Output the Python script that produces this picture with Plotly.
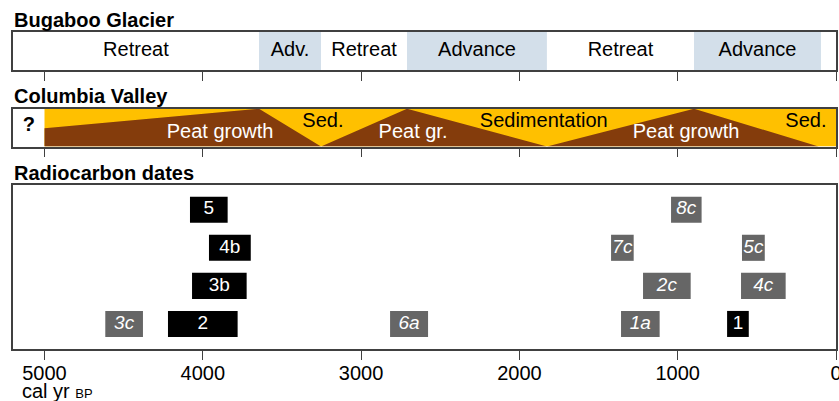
import plotly.graph_objects as go

# ---------------- data ----------------
tick_vals = [5000, 4000, 3000, 2000, 1000, 0]
tick_text = ["5000", "4000", "3000", "2000", "1000", "0"]

# Bugaboo Glacier phases (cal yr BP)
glacier_labels = ["Retreat", "Adv.", "Retreat", "Advance", "Retreat", "Advance"]
glacier_start = [5200, 3645, 3253, 2710, 1826, 897]
glacier_end = [3645, 3253, 2710, 1826, 897, 95]
glacier_state = ["retreat", "advance", "retreat", "advance", "retreat", "advance"]

# Columbia Valley: peat fraction (brown) vs sedimentation (yellow)
valley_x = [5000, 5000, 3645, 3253, 2710, 1826, 897, 110]
valley_peat = [0, 0.48, 1, 0, 1, 0, 1, 0]
valley_start, valley_end = 5000, 0
valley_labels = ["Peat growth", "Sed.", "Peat gr.", "Sedimentation", "Peat growth", "Sed."]
valley_label_x = [3891, 3241, 2672, 1846, 947, 190]
valley_label_kind = ["peat", "sed", "peat", "sed", "peat", "sed"]

# Radiocarbon dates
date_labels = ["5", "4b", "3b", "2", "3c", "6a", "8c", "7c", "5c", "2c", "4c", "1a", "1"]
date_start = [4081, 3961, 4068, 4220, 4616, 2817, 1042, 1421, 594, 1219, 600, 1358, 688]
date_end = [3843, 3697, 3723, 3780, 4378, 2577, 849, 1278, 450, 918, 318, 1114, 551]
date_row = [4, 3, 2, 1, 1, 1, 4, 3, 3, 2, 2, 1, 1]
date_type = ["black", "black", "black", "black", "gray", "gray", "gray", "gray",
             "gray", "gray", "gray", "gray", "black"]

# ---------------- style ----------------
FONT = "Liberation Sans, Arial, sans-serif"
LINE = "#404040"
ADV = "#d3dfea"
YELLOW = "#ffc000"
BROWN = "#843c0c"
GRAY = "#666666"
W, H = 839, 401
ML, MR = 13, 3
XR = [5199, 0]


def py(px):
    return (H - px) / H


fig = go.Figure()

# ---- Panel 1: Bugaboo Glacier ----
colors1 = [ADV if s == "advance" else "white" for s in glacier_state]
fig.add_trace(go.Bar(
    orientation="h", y=[0.5] * len(glacier_start),
    base=glacier_end, x=[s - e for s, e in zip(glacier_start, glacier_end)],
    width=1, marker=dict(color=colors1, line=dict(width=0)),
    xaxis="x", yaxis="y", hoverinfo="skip", showlegend=False))
fig.add_trace(go.Scatter(
    x=[(s + e) / 2 for s, e in zip(glacier_start, glacier_end)],
    y=[0.5] * len(glacier_labels), text=glacier_labels, mode="text",
    textposition="middle center",
    textfont=dict(family=FONT, size=20, color="black"),
    xaxis="x", yaxis="y", hoverinfo="skip", showlegend=False))

# ---- Panel 2: Columbia Valley ----
fig.add_trace(go.Scatter(
    x=[valley_start, valley_end, valley_end, valley_start, valley_start],
    y=[0, 0, 1, 1, 0], fill="toself", fillcolor=YELLOW, mode="lines",
    line=dict(width=0), xaxis="x2", yaxis="y2", hoverinfo="skip", showlegend=False))
fig.add_trace(go.Scatter(
    x=valley_x + [valley_x[0]], y=valley_peat + [valley_peat[0]],
    fill="toself", fillcolor=BROWN, mode="lines", line=dict(width=0),
    xaxis="x2", yaxis="y2", hoverinfo="skip", showlegend=False))
peat_i = [i for i, k in enumerate(valley_label_kind) if k == "peat"]
sed_i = [i for i, k in enumerate(valley_label_kind) if k == "sed"]
fig.add_trace(go.Scatter(
    x=[valley_label_x[i] for i in peat_i], y=[0.35] * len(peat_i),
    text=[valley_labels[i] for i in peat_i], mode="text",
    textfont=dict(family=FONT, size=20, color="white"),
    xaxis="x2", yaxis="y2", hoverinfo="skip", showlegend=False))
fig.add_trace(go.Scatter(
    x=[valley_label_x[i] for i in sed_i], y=[0.65] * len(sed_i),
    text=[valley_labels[i] for i in sed_i], mode="text",
    textfont=dict(family=FONT, size=20, color="black"),
    xaxis="x2", yaxis="y2", hoverinfo="skip", showlegend=False))
fig.add_trace(go.Scatter(
    x=[(XR[0] + valley_start) / 2], y=[0.55], text=["<b>?</b>"], mode="text",
    textfont=dict(family=FONT, size=20, color="black"),
    xaxis="x2", yaxis="y2", hoverinfo="skip", showlegend=False))

# ---- Panel 3: Radiocarbon dates ----
for kind, col in (("black", "black"), ("gray", GRAY)):
    idx = [i for i, t in enumerate(date_type) if t == kind]
    fig.add_trace(go.Bar(
        orientation="h", y=[date_row[i] for i in idx],
        base=[date_end[i] for i in idx],
        x=[date_start[i] - date_end[i] for i in idx],
        width=0.684, marker=dict(color=col, line=dict(width=0)),
        xaxis="x3", yaxis="y3", hoverinfo="skip", showlegend=False))
    fig.add_trace(go.Scatter(
        x=[(date_start[i] + date_end[i]) / 2 for i in idx],
        y=[date_row[i] for i in idx],
        text=[(date_labels[i] if kind == "black" else "<i>" + date_labels[i] + "</i>") for i in idx],
        mode="text", textfont=dict(family=FONT, size=19, color="white"),
        xaxis="x3", yaxis="y3", hoverinfo="skip", showlegend=False))

# ---------------- layout ----------------
def xax(anchor, labels):
    return dict(range=XR, domain=[0, 1], anchor=anchor, showgrid=False, zeroline=False,
                showline=True, mirror=True, linecolor=LINE, linewidth=1.5,
                ticks="outside", ticklen=9, tickwidth=1.3, tickcolor=LINE,
                tickvals=tick_vals, ticktext=tick_text, showticklabels=labels,
                tickfont=dict(family=FONT, size=20, color="black"), automargin=False,
                ticklabeloverflow="allow", ticklabelstandoff=-4,
                fixedrange=True)


def yax(anchor, dom, rng):
    return dict(range=rng, domain=dom, anchor=anchor, showgrid=False, zeroline=False,
                showline=True, mirror=True, linecolor=LINE, linewidth=1.5,
                showticklabels=False, ticks="", automargin=False, fixedrange=True)


fig.update_layout(
    width=W, height=H, margin=dict(l=ML, r=MR, t=0, b=0),
    paper_bgcolor="white", plot_bgcolor="white", barmode="overlay",
    font=dict(family=FONT, size=20, color="black"),
    xaxis=xax("y", False), yaxis=yax("x", [py(70), py(32)], [0, 1]),
    xaxis2=xax("y2", False), yaxis2=yax("x2", [py(146.5), py(108.7)], [0, 1]),
    xaxis3=xax("y3", True), yaxis3=yax("x3", [py(349), py(184.7)], [0.342, 4.658]),
    showlegend=False,
)

for txt, ypx in (("<b>Bugaboo Glacier</b>", 19.5), ("<b>Columbia Valley</b>", 95.5),
                 ("<b>Radiocarbon dates</b>", 172.5)):
    fig.add_annotation(text=txt, xref="paper", yref="paper", x=(12 - ML) / (W - ML - MR),
                       y=py(ypx), xanchor="left", yanchor="middle", showarrow=False,
                       font=dict(family=FONT, size=20, color="black"))

fig.add_annotation(text="cal yr <span style='font-size:13px'>BP</span>", xref="paper", yref="paper",
                   x=(20 - ML) / (W - ML - MR), y=py(390.5), xanchor="left", yanchor="middle",
                   showarrow=False, font=dict(family=FONT, size=20, color="black"))

fig.write_html("out.html", config={"displayModeBar": False},
               post_script="document.body.style.margin='0';document.body.style.overflow='hidden';")
